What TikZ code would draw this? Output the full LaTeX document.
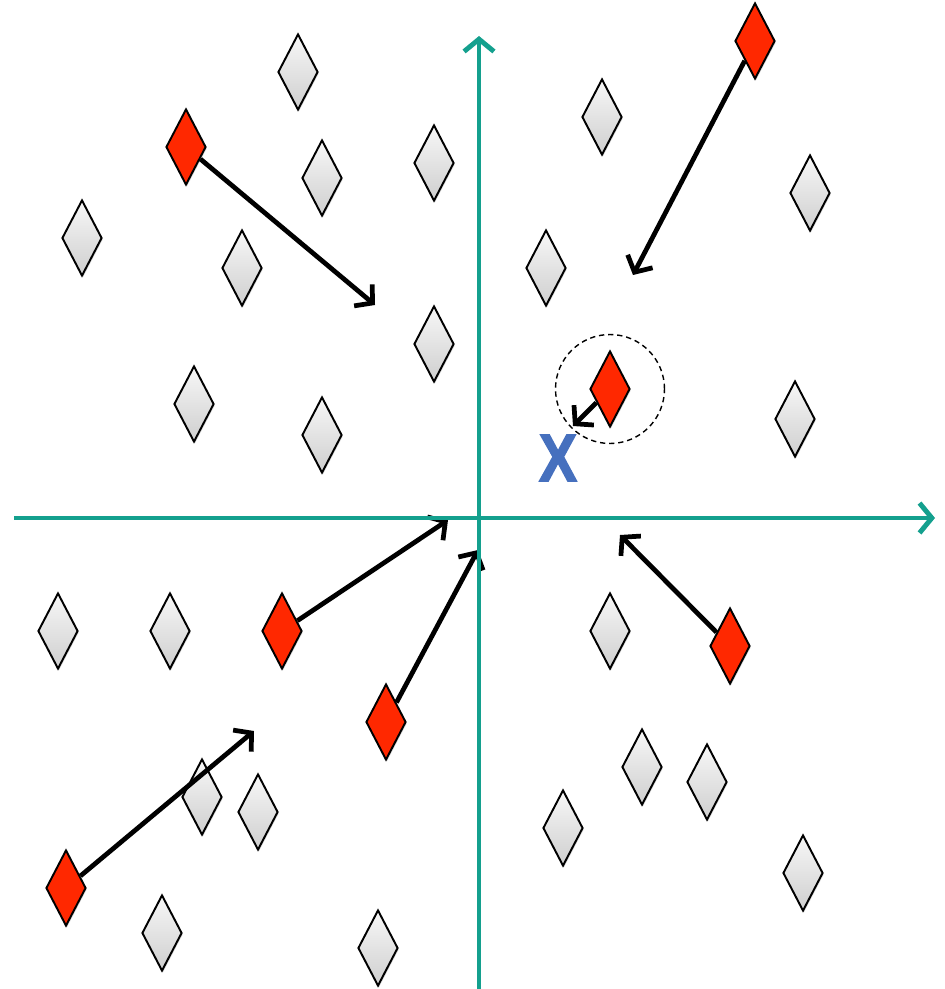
\documentclass[tikz,border=0pt]{standalone}
\usepackage{fontspec}
\newfontfamily\xfont{Liberation Sans}[BoldFeatures={FakeBold=2.5}]
\usetikzlibrary{shapes.geometric, arrows.meta, shadows}
\definecolor{axteal}{RGB}{20,160,142}
\definecolor{ptred}{RGB}{255,40,0}
\definecolor{xblue}{RGB}{70,112,190}
\tikzset{
  pt base/.style={draw=black, diamond, inner sep=0pt, minimum width=8mm,
    minimum height=15.2mm, line width=1.1pt,
    drop shadow={opacity=0.3, shadow xshift=0.6pt, shadow yshift=-0.9pt}},
  pt gray/.style={pt base, top color=gray!6, bottom color=gray!38},
  pt red/.style={pt base, fill=ptred},
  ax line/.style={draw=axteal, line width=2.8pt,
    -{Straight Barb[length=7pt,width=17pt]}},
  mv edge/.style={draw=black, line width=2.7pt,
    -{Straight Barb[length=7pt,width=16pt]}},
  nb ring/.style={draw=black, circle, line width=0.8pt, minimum size=21.8mm,
    dash pattern=on 3pt off 2.2pt},
  tgt mark/.style={font=\xfont\bfseries\fontsize{38}{38}\selectfont,
    text=xblue, inner sep=0pt},
}

\begin{document}
\begin{tikzpicture}[x=0.02cm, y=-0.02cm]
 \useasboundingbox (0,0) rectangle (944,989);
 % background points
 \node[pt gray] (g1) at (298,72) {};
 \node[pt gray] (g2) at (602,117) {};
 \node[pt gray] (g3) at (322,178) {};
 \node[pt gray] (g4) at (434,163) {};
 \node[pt gray] (g5) at (82,238) {};
 \node[pt gray] (g6) at (242,268) {};
 \node[pt gray] (g7) at (546,268) {};
 \node[pt gray] (g8) at (810,193) {};
 \node[pt gray] (g9) at (434,344) {};
 \node[pt gray] (g10) at (194,404) {};
 \node[pt gray] (g11) at (322,435) {};
 \node[pt gray] (g12) at (795,419) {};
 \node[pt gray] (g13) at (58,631) {};
 \node[pt gray] (g14) at (170,631) {};
 \node[pt gray] (g15) at (610,631) {};
 \node[pt gray] (g16) at (642,767) {};
 \node[pt gray] (g17) at (707,782) {};
 \node[pt gray] (g18) at (202,797) {};
 \node[pt gray] (g19) at (258,812) {};
 \node[pt gray] (g20) at (563,828) {};
 \node[pt gray] (g21) at (803,873) {};
 \node[pt gray] (g22) at (162,933) {};
 \node[pt gray] (g23) at (378,948) {};
 % moving points
 \node[pt red] (rA) at (186,147) {};
 \node[pt red] (rB) at (755,41) {};
 \node[pt red] (rC) at (610,389) {};
 \node[pt red] (rD) at (282,631) {};
 \node[pt red] (rE) at (386,722) {};
 \node[pt red] (rF) at (730,646) {};
 \node[pt red] (rG) at (66,888) {};
 \node[nb ring] (ring) at (610,389) {};
 \node[tgt mark] (tgt) at (558,458) {\scalebox{0.85}[1]{X}};
 \coordinate (aT) at (375,305);
 \coordinate (bT) at (633,275);
 \coordinate (cT) at (573,426);
 \coordinate (dT) at (448,520);
 \coordinate (eT) at (478,550);
 \coordinate (fT) at (620,535);
 \coordinate (gT) at (254,731);
 \draw[mv edge] (rA)--(aT);
 \draw[mv edge] (rB)--(bT);
 \draw[mv edge] (rC)--(cT);
 \draw[mv edge] (rD)--(dT);
 \draw[mv edge] (rE)--(eT);
 \draw[mv edge] (rF)--(fT);
 \draw[mv edge] (rG)--(gT);
 % axes
 \coordinate (xL) at (14,518);
 \coordinate (xR) at (935,518);
 \coordinate (yB) at (479,989);
 \coordinate (yT) at (479,36);
 \draw[ax line] (xL)--(xR);
 \draw[ax line] (yB)--(yT);
\end{tikzpicture}
\end{document}
